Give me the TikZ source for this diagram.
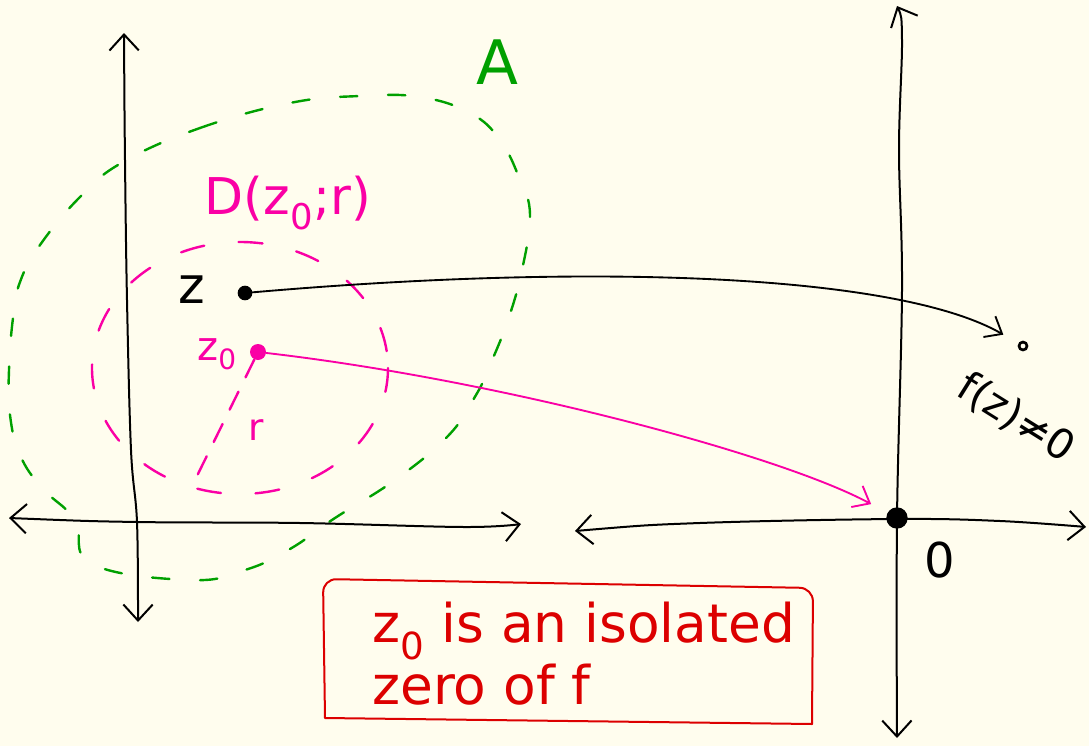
\documentclass[tikz,border=0pt]{standalone}
\usepackage{fontspec}
\setmainfont{DejaVu Sans}
\usetikzlibrary{arrows.meta}
\definecolor{bgc}{RGB}{255,253,238}
\definecolor{pinkc}{RGB}{250,0,165}
\definecolor{greenc}{RGB}{0,160,0}
\definecolor{redc}{RGB}{220,0,0}
\begin{document}
\begin{tikzpicture}[x=0.75pt,y=-0.75pt,
  barb/.tip={Straight Barb[length=12pt,width=22pt]},
  axis/.style={line width=1.5pt, line cap=round, line join=round, barb-barb},
  conn/.style={line width=1.4pt, line cap=round, -{Straight Barb[length=11pt,width=18pt]}},
  greendash/.style={greenc, line width=1.8pt, line cap=round, dash pattern=on 13pt off 23pt},
  pinkdash/.style={pinkc, line width=1.8pt, line cap=round, dash pattern=on 18pt off 26pt},
  lbl/.style={inner sep=0pt},
  fs/.style={font=\fontsize{#1}{#1}\selectfont}
]
\fill[bgc] (0,0) rectangle (1089,746);
\useasboundingbox (0,0) rectangle (1089,746);

% green region A
\draw[greendash] plot[smooth cycle, tension=0.7] coordinates {
  (123,162) (200,128) (290,103) (360,96) (420,97) (470,113) (500,140)
  (520,180) (530,215) (522,270) (508,320) (490,365) (476,395) (448,436)
  (395,480) (335,518) (290,549) (245,570) (190,580) (92,564) (75,520)
  (42,488) (20,455) (10,415) (9,370) (13,318) (20,282) (40,245) (80,197)};
\node[lbl, greenc, fs=46] (A) at (497,62) {A};

% left axes
\draw[axis] plot[smooth, tension=0.6] coordinates {(124,33) (125,160) (127,300) (131,450) (137,522) (138,622)};
\draw[axis] plot[smooth, tension=0.6] coordinates {(9,518) (137,522) (300,523) (464,527) (521,524)};

% right axes
\draw[axis] plot[smooth, tension=0.6] coordinates {(897,6) (902,40) (899,150) (902,290) (897,519) (897,738)};
\draw[axis] plot[smooth, tension=0.6] coordinates {(575,531) (700,523) (897,519) (1000,521) (1086,527)};

% disc D(z0;r)
\draw[pinkdash] (240,368) ellipse [x radius=148, y radius=126];
\node[lbl, pinkc, fs=38] (D) at (288,203) {D(z\textsubscript{0};r)};

% points
\node[circle, fill=black, inner sep=0pt, minimum size=11pt] (z) at (245,293) {};
\node[lbl, fs=38] (zl) at (192,290) {z};
\node[circle, fill=pinkc, inner sep=0pt, minimum size=12pt] (z0) at (258,352) {};
\node[lbl, pinkc, fs=30] (z0l) at (217,354) {z\textsubscript{0}};
\draw[pinkc, line width=1.8pt, line cap=round, dash pattern=on 15pt off 12pt] (z0) -- (196,478);
\node[lbl, pinkc, fs=28] (rl) at (256,430) {r};

\node[circle, draw=black, line width=2pt, inner sep=0pt, minimum size=6pt] (fz) at (1023,346) {};
\node[lbl, fs=31, rotate=-32] (fzl) at (1016,418) {f(z)≠0};

\node[circle, fill=black, draw=black, line width=1pt, inner sep=0pt, minimum size=15pt] (o) at (897,518) {};
\node[lbl, fs=36] (ol) at (940,560) {0};

% connectors
\draw[conn, shorten >=13pt] (z) .. controls (600,262) and (900,275) .. (fz);
\draw[conn, pinkc, shorten >=14pt] (z0) .. controls (500,380) and (780,455) .. (o);

% note box
\draw[redc, line width=1.5pt, line join=round] (325,718) [rounded corners=10pt] -- (323,579) -- (813,588) [sharp corners] -- (812,724) -- cycle;
\node[lbl, redc, fs=40, align=left, anchor=north west] (note) at (372,602)
  {z\textsubscript{0} is an isolated\\[2pt] zero of f};
\end{tikzpicture}
\end{document}
